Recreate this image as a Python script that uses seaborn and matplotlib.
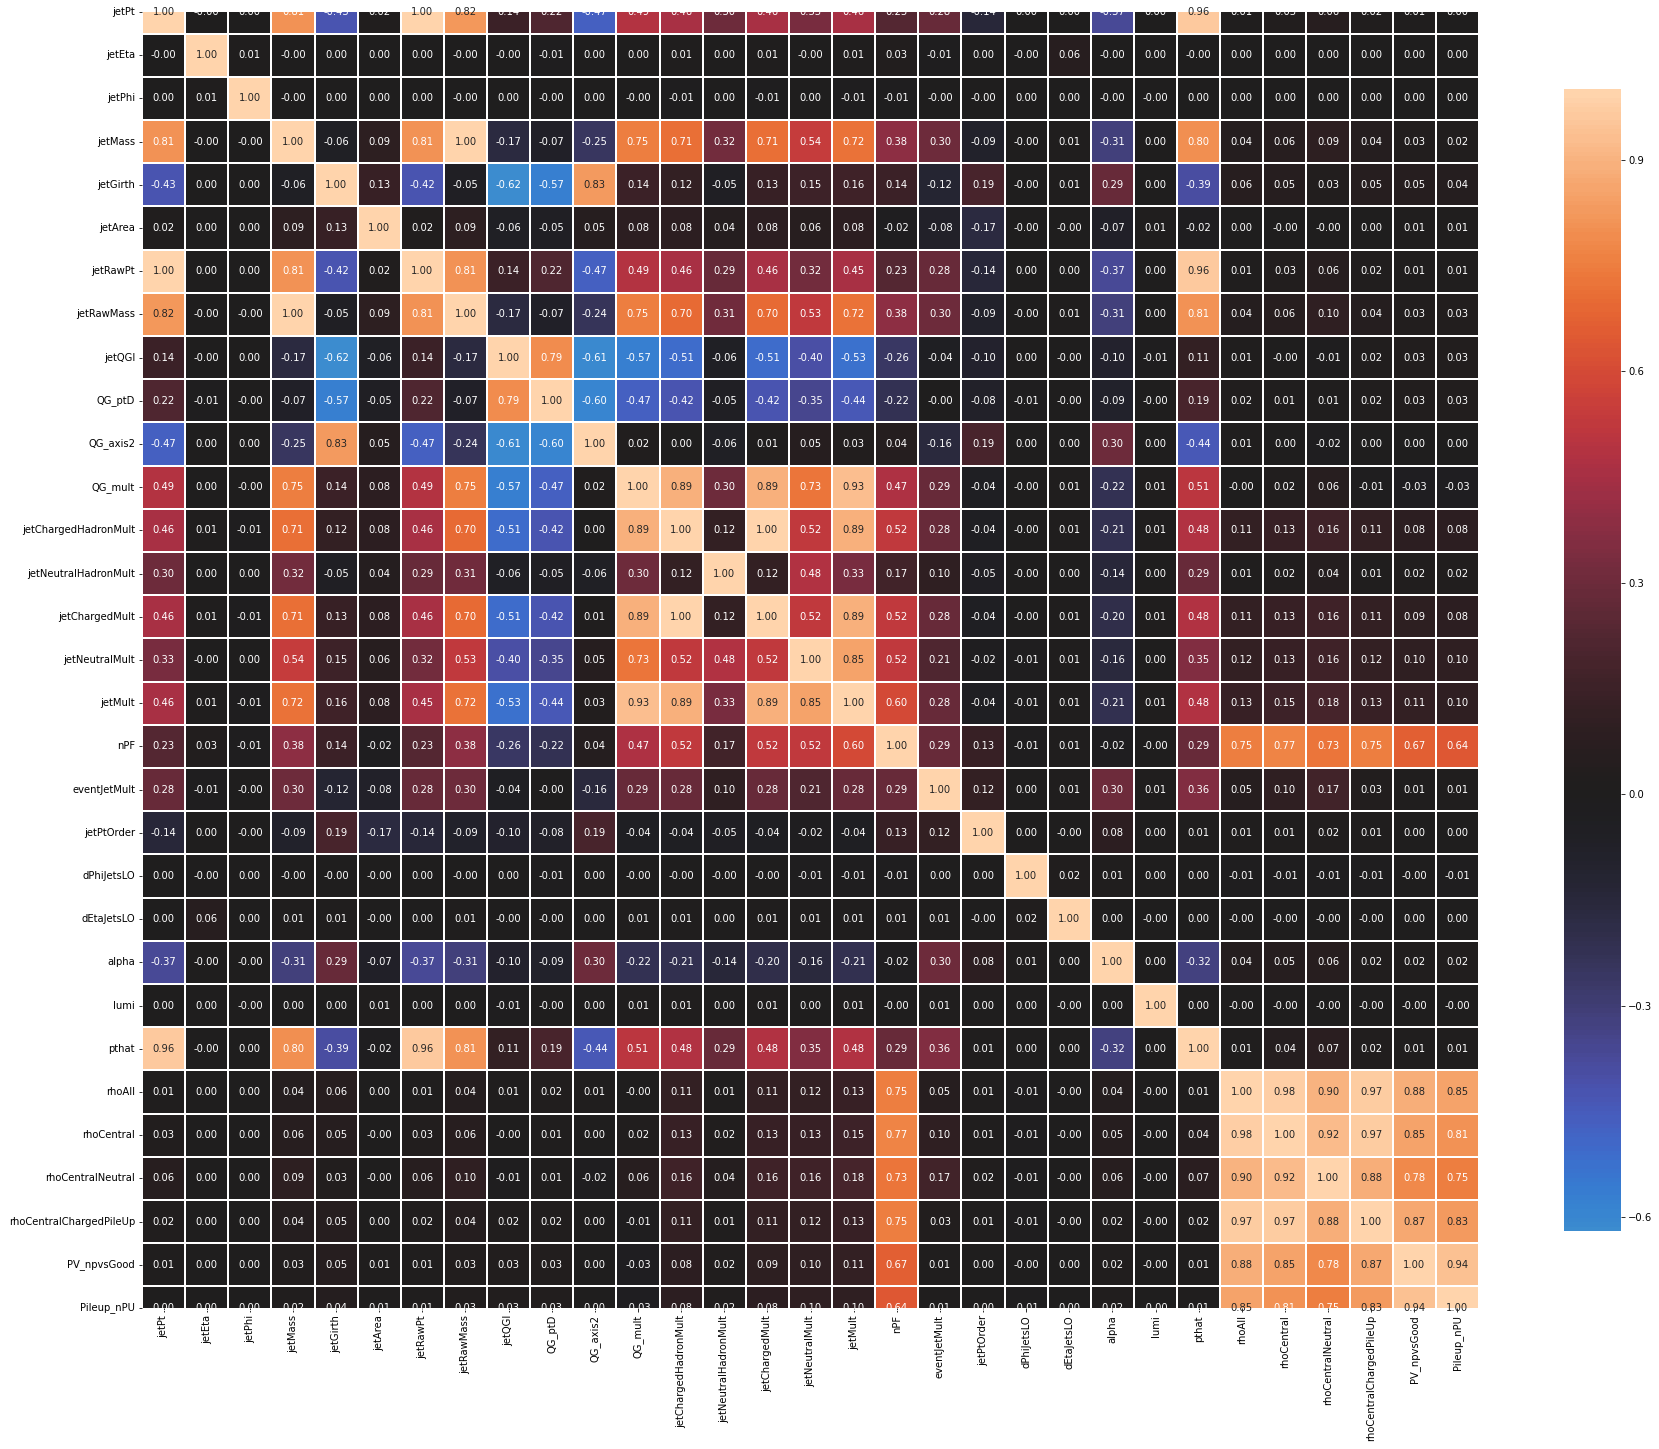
import numpy as np
import pandas as pd
import seaborn as sns
import matplotlib.pyplot as plt
from matplotlib.ticker import MultipleLocator

# variable names (rows / columns of the correlation matrix)
labels = ['jetPt', 'jetEta', 'jetPhi', 'jetMass', 'jetGirth', 'jetArea', 'jetRawPt',
          'jetRawMass', 'jetQGl', 'QG_ptD', 'QG_axis2', 'QG_mult', 'jetChargedHadronMult',
          'jetNeutralHadronMult', 'jetChargedMult', 'jetNeutralMult', 'jetMult', 'nPF',
          'eventJetMult', 'jetPtOrder', 'dPhiJetsLO', 'dEtaJetsLO', 'alpha', 'lumi', 'pthat',
          'rhoAll', 'rhoCentral', 'rhoCentralNeutral', 'rhoCentralChargedPileUp',
          'PV_npvsGood', 'Pileup_nPU']

# lower triangle of the correlation matrix, row by row (-0.0 shows as "-0.00")
lower = [
    [1.00],
    [-0.0, 1.00],
    [0.00, 0.01, 1.00],
    [0.81, -0.0, -0.0, 1.00],
    [-0.43, 0.00, 0.00, -0.06, 1.00],
    [0.02, 0.00, 0.00, 0.09, 0.13, 1.00],
    [1.00, 0.00, 0.00, 0.81, -0.42, 0.02, 1.00],
    [0.82, -0.0, -0.0, 1.00, -0.05, 0.09, 0.81, 1.00],
    [0.14, -0.0, 0.00, -0.17, -0.62, -0.06, 0.14, -0.17, 1.00],
    [0.22, -0.01, -0.0, -0.07, -0.57, -0.05, 0.22, -0.07, 0.79, 1.00],
    [-0.47, 0.00, 0.00, -0.25, 0.83, 0.05, -0.47, -0.24, -0.61, -0.60, 1.00],
    [0.49, 0.00, -0.0, 0.75, 0.14, 0.08, 0.49, 0.75, -0.57, -0.47, 0.02, 1.00],
    [0.46, 0.01, -0.01, 0.71, 0.12, 0.08, 0.46, 0.70, -0.51, -0.42, 0.00, 0.89, 1.00],
    [0.30, 0.00, 0.00, 0.32, -0.05, 0.04, 0.29, 0.31, -0.06, -0.05, -0.06, 0.30, 0.12, 1.00],
    [0.46, 0.01, -0.01, 0.71, 0.13, 0.08, 0.46, 0.70, -0.51, -0.42, 0.01, 0.89, 1.00, 0.12, 1.00],
    [0.33, -0.0, 0.00, 0.54, 0.15, 0.06, 0.32, 0.53, -0.40, -0.35, 0.05, 0.73, 0.52, 0.48, 0.52, 1.00],
    [0.46, 0.01, -0.01, 0.72, 0.16, 0.08, 0.45, 0.72, -0.53, -0.44, 0.03, 0.93, 0.89, 0.33, 0.89,
     0.85, 1.00],
    [0.23, 0.03, -0.01, 0.38, 0.14, -0.02, 0.23, 0.38, -0.26, -0.22, 0.04, 0.47, 0.52, 0.17, 0.52,
     0.52, 0.60, 1.00],
    [0.28, -0.01, -0.0, 0.30, -0.12, -0.08, 0.28, 0.30, -0.04, -0.0, -0.16, 0.29, 0.28, 0.10, 0.28,
     0.21, 0.28, 0.29, 1.00],
    [-0.14, 0.00, -0.0, -0.09, 0.19, -0.17, -0.14, -0.09, -0.10, -0.08, 0.19, -0.04, -0.04, -0.05,
     -0.04, -0.02, -0.04, 0.13, 0.12, 1.00],
    [0.00, -0.0, 0.00, -0.0, -0.0, -0.0, 0.00, -0.0, 0.00, -0.01, 0.00, -0.0, -0.0, -0.0, -0.0,
     -0.01, -0.01, -0.01, 0.00, 0.00, 1.00],
    [0.00, 0.06, 0.00, 0.01, 0.01, -0.0, 0.00, 0.01, -0.0, -0.0, 0.00, 0.01, 0.01, 0.00, 0.01,
     0.01, 0.01, 0.01, 0.01, -0.0, 0.02, 1.00],
    [-0.37, -0.0, -0.0, -0.31, 0.29, -0.07, -0.37, -0.31, -0.10, -0.09, 0.30, -0.22, -0.21, -0.14,
     -0.20, -0.16, -0.21, -0.02, 0.30, 0.08, 0.01, 0.00, 1.00],
    [0.00, 0.00, -0.0, 0.00, 0.00, 0.01, 0.00, 0.00, -0.01, -0.0, 0.00, 0.01, 0.01, 0.00, 0.01,
     0.00, 0.01, -0.0, 0.01, 0.00, 0.00, -0.0, 0.00, 1.00],
    [0.96, -0.0, 0.00, 0.80, -0.39, -0.02, 0.96, 0.81, 0.11, 0.19, -0.44, 0.51, 0.48, 0.29, 0.48,
     0.35, 0.48, 0.29, 0.36, 0.01, 0.00, 0.00, -0.32, 0.00, 1.00],
    [0.01, 0.00, 0.00, 0.04, 0.06, 0.00, 0.01, 0.04, 0.01, 0.02, 0.01, -0.0, 0.11, 0.01, 0.11,
     0.12, 0.13, 0.75, 0.05, 0.01, -0.01, -0.0, 0.04, -0.0, 0.01, 1.00],
    [0.03, 0.00, 0.00, 0.06, 0.05, -0.0, 0.03, 0.06, -0.0, 0.01, 0.00, 0.02, 0.13, 0.02, 0.13,
     0.13, 0.15, 0.77, 0.10, 0.01, -0.01, -0.0, 0.05, -0.0, 0.04, 0.98, 1.00],
    [0.06, 0.00, 0.00, 0.09, 0.03, -0.0, 0.06, 0.10, -0.01, 0.01, -0.02, 0.06, 0.16, 0.04, 0.16,
     0.16, 0.18, 0.73, 0.17, 0.02, -0.01, -0.0, 0.06, -0.0, 0.07, 0.90, 0.92, 1.00],
    [0.02, 0.00, 0.00, 0.04, 0.05, 0.00, 0.02, 0.04, 0.02, 0.02, 0.00, -0.01, 0.11, 0.01, 0.11,
     0.12, 0.13, 0.75, 0.03, 0.01, -0.01, -0.0, 0.02, -0.0, 0.02, 0.97, 0.97, 0.88, 1.00],
    [0.01, 0.00, 0.00, 0.03, 0.05, 0.01, 0.01, 0.03, 0.03, 0.03, 0.00, -0.03, 0.08, 0.02, 0.09,
     0.10, 0.11, 0.67, 0.01, 0.00, -0.0, 0.00, 0.02, -0.0, 0.01, 0.88, 0.85, 0.78, 0.87, 1.00],
    [0.00, 0.00, 0.00, 0.02, 0.04, 0.01, 0.01, 0.03, 0.03, 0.03, 0.00, -0.03, 0.08, 0.02, 0.08,
     0.10, 0.10, 0.64, 0.01, 0.00, -0.01, 0.00, 0.02, -0.0, 0.01, 0.85, 0.81, 0.75, 0.83, 0.94, 1.00],
]

n = len(labels)
corr = np.zeros((n, n))
for i, row in enumerate(lower):
    assert len(row) == i + 1
    for j, v in enumerate(row):
        # assign both halves directly so -0.0 keeps its sign
        corr[i, j] = v
        corr[j, i] = v
corr = pd.DataFrame(corr, index=labels, columns=labels)

fig = plt.figure(figsize=(1659 / 72, 1449 / 72), dpi=72)
ax = fig.add_axes([0.0856, 0.0973, 0.8059, 0.8944])
cax = fig.add_axes([0.9427, 0.1504, 0.0344, 0.788])

sns.heatmap(corr, annot=True, fmt='.2f', center=0, linewidths=1.5, linecolor='white',
            ax=ax, cbar_ax=cax)

# top and bottom rows cut in half, like the original
ax.set_ylim(n - 0.5, 0.5)
ax.tick_params(axis='y', rotation=0)
ax.tick_params(axis='x', rotation=90)
cax.yaxis.set_major_locator(MultipleLocator(0.3))
cax.tick_params(labelsize=10)

fig.savefig('out.png', dpi=72)
